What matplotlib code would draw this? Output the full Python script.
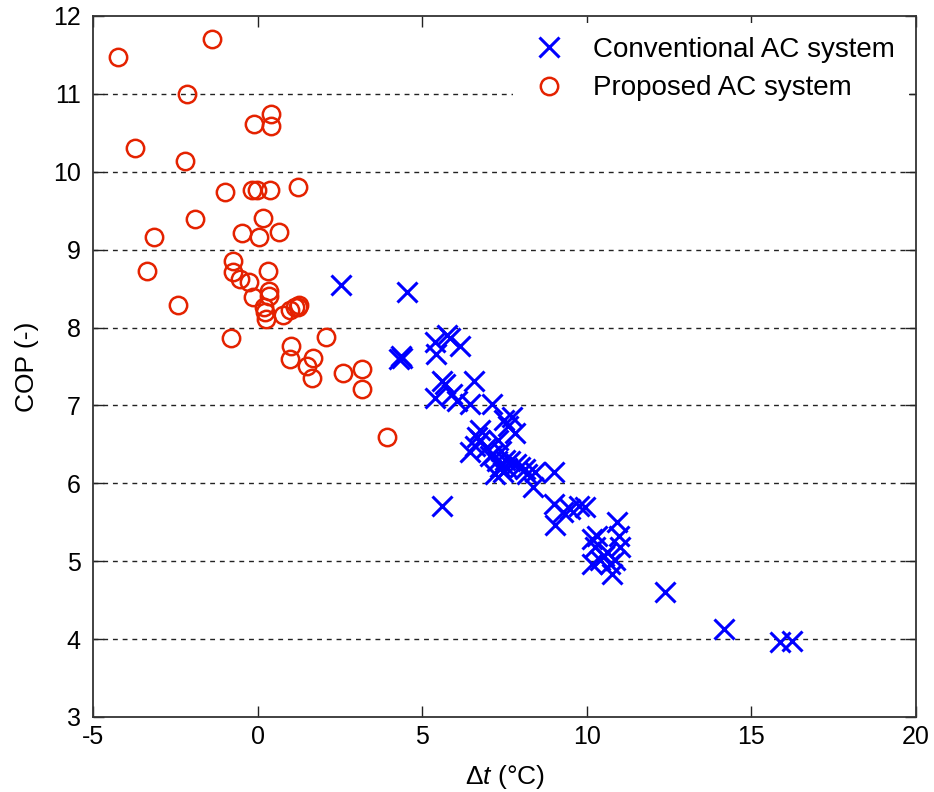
import matplotlib
matplotlib.use("Agg")
import matplotlib.pyplot as plt

plt.rcParams['font.family'] = ['Liberation Sans', 'DejaVu Sans']
plt.rcParams['mathtext.fontset'] = 'custom'
plt.rcParams['mathtext.rm'] = 'Liberation Sans'
plt.rcParams['mathtext.it'] = 'Liberation Sans:italic'

# Temperature difference (°C) and COP for the conventional system
conv_dt = [2.54, 4.53, 4.30, 4.36, 4.40, 5.40, 5.75, 5.85, 6.16, 5.43,
           5.60, 5.70, 6.56, 5.40, 5.90, 6.05, 6.46, 7.12, 6.76, 6.66,
           7.47, 7.72, 7.60, 7.83, 6.46, 6.60, 6.76, 6.95, 7.05, 7.16,
           7.27, 7.37, 7.22, 7.30, 7.40, 7.50, 7.45, 7.58, 7.67, 7.85,
           7.98, 8.13, 8.18, 8.43, 8.38, 8.99, 5.60, 8.99, 9.04, 9.29,
           9.50, 9.75, 9.95, 10.16, 10.31, 10.25, 10.91, 10.97, 11.02, 10.41,
           10.51, 10.71, 10.76, 10.16, 10.85, 10.60, 12.39, 14.18, 15.88, 16.23]
conv_cop = [8.54, 8.46, 7.60, 7.64, 7.61, 7.81, 7.90, 7.86, 7.76, 7.66,
            7.32, 7.27, 7.32, 7.09, 7.15, 7.06, 7.02, 7.02, 6.68, 6.60,
            6.81, 6.85, 6.74, 6.64, 6.40, 6.48, 6.55, 6.45, 6.35, 6.38,
            6.29, 6.21, 6.12, 6.55, 6.42, 6.30, 6.15, 6.20, 6.29, 6.25,
            6.21, 6.19, 6.12, 6.14, 5.95, 6.14, 5.71, 5.74, 5.46, 5.63,
            5.67, 5.71, 5.69, 5.29, 5.33, 5.18, 5.50, 5.33, 5.18, 5.01,
            5.07, 4.96, 4.84, 4.96, 5.02, 5.12, 4.60, 4.13, 3.96, 3.97]

# Temperature difference (°C) and COP for the proposed system
prop_dt = [-4.23, -1.40, -2.15, 0.41, -0.11, 0.41, -3.72, -2.20, -0.99, -0.18,
           -0.03, 0.38, 1.24, -1.90, -3.15, 0.16, -0.46, 0.04, 0.66, -0.74,
           -3.37, -0.74, -0.55, -0.25, 0.31, 0.35, 0.35, -0.13, 0.18, 0.23,
           0.25, 0.78, 0.99, 1.14, 1.24, 1.27, -2.41, -0.81, 2.08, 1.02,
           0.97, 1.67, 1.50, 1.64, 2.59, 3.17, 3.17, 3.93]
prop_cop = [11.47, 11.70, 11.00, 10.74, 10.61, 10.59, 10.30, 10.14, 9.74, 9.76,
            9.76, 9.76, 9.81, 9.39, 9.16, 9.41, 9.21, 9.16, 9.23, 8.86,
            8.72, 8.71, 8.62, 8.59, 8.72, 8.47, 8.41, 8.39, 8.26, 8.20,
            8.11, 8.16, 8.22, 8.27, 8.26, 8.29, 8.29, 7.86, 7.88, 7.76,
            7.60, 7.61, 7.50, 7.35, 7.42, 7.47, 7.21, 6.60]

x_ticks = [-5, 0, 5, 10, 15, 20]
y_ticks = [3, 4, 5, 6, 7, 8, 9, 10, 11, 12]

fig = plt.figure(figsize=(9.34, 7.92), dpi=100)
ax = fig.add_axes([0.0996, 0.0947, 0.8811, 0.8851])

ax.plot(conv_dt, conv_cop, linestyle='none', marker='x', markersize=15,
        markeredgewidth=2.2, color='#0000ff', label='Conventional AC system',
        zorder=3)
ax.plot(prop_dt, prop_cop, linestyle='none', marker='o', markersize=12.5,
        markeredgewidth=1.8, markerfacecolor='none', markeredgecolor='#e42200',
        label='Proposed AC system', zorder=3)

ax.set_xlim(-5, 20)
ax.set_ylim(3, 12)
ax.set_xticks(x_ticks)
ax.set_yticks(y_ticks)
ax.set_xticklabels([str(v) for v in x_ticks])
ax.set_yticklabels([str(v) for v in y_ticks])
ax.tick_params(direction='in', length=8, width=1, top=True, right=True,
               labelsize=18, colors='#222222', labelcolor='black')
ax.tick_params(axis='y', pad=9)
ax.tick_params(axis='x', pad=6)

for v in y_ticks[1:-1]:
    ax.axhline(v, color='#222222', linewidth=1.0, linestyle=(0, (3.5, 3.5)),
               zorder=1)

for s in ax.spines.values():
    s.set_linewidth(1.3)
    s.set_color('#333333')

ax.set_xlabel(r'$\Delta\mathit{t}$ (°C)', fontsize=19, labelpad=10)
ax.set_ylabel('COP (-)', fontsize=19, labelpad=10)

leg = ax.legend(loc='upper right', fontsize=20, frameon=True,
                fancybox=False, borderaxespad=0.25, handletextpad=0.8,
                handlelength=1.6, borderpad=0.5, labelspacing=0.45)
leg.get_frame().set_edgecolor('none')
leg.get_frame().set_facecolor('white')
leg.get_frame().set_alpha(1.0)
leg.set_zorder(5)

fig.savefig('out.png', dpi=100)
